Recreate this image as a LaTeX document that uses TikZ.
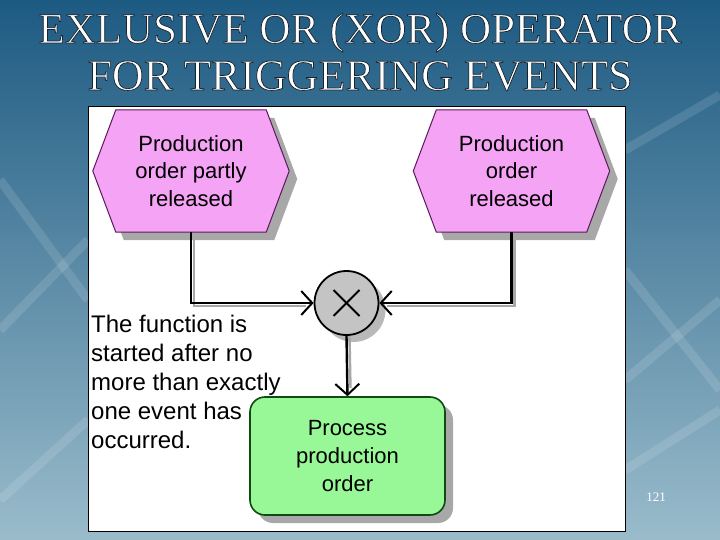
\documentclass[tikz,border=0pt]{standalone}
\usepackage{fontspec}
\setmainfont{Liberation Serif}
\newfontfamily\arial{Liberation Sans}
\usetikzlibrary{arrows.meta,shadows}
\pgfdeclarelayer{base}
\pgfdeclarelayer{shp}
\pgfsetlayers{base,shp,main}
\definecolor{bgtop}{HTML}{1D5A82}
\definecolor{bgmid}{HTML}{4582A4}
\definecolor{bgbot}{HTML}{9ABCCB}
\definecolor{evtfill}{HTML}{F5A3F5}
\definecolor{evtline}{HTML}{5A1A5A}
\definecolor{fnfill}{HTML}{98F898}
\definecolor{fnline}{HTML}{104A10}
\definecolor{xorfill}{HTML}{C4C4C4}
\definecolor{shadowgray}{HTML}{A8A8A8}
\newcommand{\outlinedtitle}[1]{\special{pdf:literal direct 2 Tr 0.75 w 0.1 0.14 0.18 RG}#1\special{pdf:literal direct 0 Tr}}
\begin{document}
\begin{tikzpicture}[x=1pt,y=-1pt,
  titletxt/.style={text=white, font=\fontsize{43}{46}\selectfont, inner sep=0pt},
  evt/.style={minimum width=196pt, minimum height=122pt, inner sep=0pt, align=center,
    font=\arial\fontsize{22}{27.5}\selectfont},
  hexshape/.style={fill=evtfill, draw=evtline, line width=1pt},
  hexshadow/.style={fill=shadowgray},
  fnbox/.style={rectangle, rounded corners=15pt, minimum width=195pt, minimum height=118pt,
    inner sep=0pt, align=center, fill=fnfill, draw=fnline, line width=1.6pt,
    font=\arial\fontsize{22}{28}\selectfont,
    drop shadow={shadow xshift=8pt, shadow yshift=-8pt, fill=shadowgray, opacity=1}},
  xorop/.style={circle, minimum size=64pt, inner sep=0pt, fill=xorfill, draw=black, line width=1.8pt,
    drop shadow={shadow xshift=7pt, shadow yshift=-7pt, fill=shadowgray, opacity=0.8}},
  conn/.style={draw=black, line width=2.4pt, -{Straight Barb[length=11pt,width=24pt,line width=2pt]}},
  connshadow/.style={draw=shadowgray, line width=2.4pt},
  streak/.style={draw=white, opacity=0.12, line width=9pt},
  note/.style={align=left, inner sep=0pt, font=\arial\fontsize{24}{29}\selectfont}
]
\useasboundingbox (0,0) rectangle (720,540);
\begin{pgfonlayer}{base}
  \shade[top color=bgtop, middle color=bgmid, bottom color=bgbot] (0,0) rectangle (720,540);
  \draw[streak] (625,380) -- (720,300);
  \draw[streak] (625,150) -- (720,95);
  \draw[streak] (625,270) -- (720,390);
  \draw[streak] (625,470) -- (720,410);
  \draw[streak] (0,330) -- (88,240);
  \draw[streak] (0,500) -- (88,420);
  \draw[streak] (0,180) -- (88,300);
  \draw[draw=black, line width=1pt, fill=white] (88,107) rectangle (625,531);
\end{pgfonlayer}

% title
\node[titletxt, anchor=base] (t1) at (360,43) {\outlinedtitle{EXLUSIVE OR (XOR) OPERATOR}};
\node[titletxt, anchor=base, font=\fontsize{44}{46}\selectfont] (t2) at (360,90) {\outlinedtitle{FOR TRIGGERING EVENTS}};

% events
\node[evt] (e1) at (191,171) {Production\\order partly\\released};
\node[evt] (e2) at (511.5,171) {Production\\order\\released};

% XOR operator
\node[xorop] (xor) at (346.5,303) {};
\draw[line width=1.8pt] ([shift={(-13,-13)}]xor.center) -- ([shift={(13,13)}]xor.center);
\draw[line width=1.8pt] ([shift={(-13,13)}]xor.center) -- ([shift={(13,-13)}]xor.center);

% function
\node[fnbox] (fn) at (347.5,456) {Process\\production\\order};

\begin{pgfonlayer}{shp}
  \draw[connshadow] ([shift={(3,3)}]e1.south) |- ([shift={(-8,3)}]xor.west);
  \draw[connshadow] ([shift={(3,3)}]e2.south) |- ([shift={(8,3)}]xor.east);
  \draw[connshadow] ([shift={(3,0)}]xor.south) -- ([shift={(3,-8)}]fn.north);
  \foreach \n in {e1,e2}{
    \fill[hexshadow] ([shift={(31,8)}]\n.north west) -- ([shift={(-15,8)}]\n.north east)
      -- ([shift={(8,8)}]\n.east) -- ([shift={(-15,8)}]\n.south east)
      -- ([shift={(31,8)}]\n.south west) -- ([shift={(8,8)}]\n.west) -- cycle;
    \draw[hexshape] ([xshift=23pt]\n.north west) -- ([xshift=-23pt]\n.north east)
      -- (\n.east) -- ([xshift=-23pt]\n.south east)
      -- ([xshift=23pt]\n.south west) -- (\n.west) -- cycle;
  }
\end{pgfonlayer}

% connectors
\draw[conn] (e1.south) |- (xor.west);
\draw[conn] (e2.south) |- (xor.east);
\draw[conn] (xor.south) -- (fn.north);

% note
\node[note, anchor=north west] (nt) at (91,314.5) {The function is\\started after no\\more than exactly\\one event has\\occurred.};

% page number
\node[text=white, font=\fontsize{13}{15}\selectfont, inner sep=0pt] (pg) at (656,497) {121};
\end{tikzpicture}
\end{document}
